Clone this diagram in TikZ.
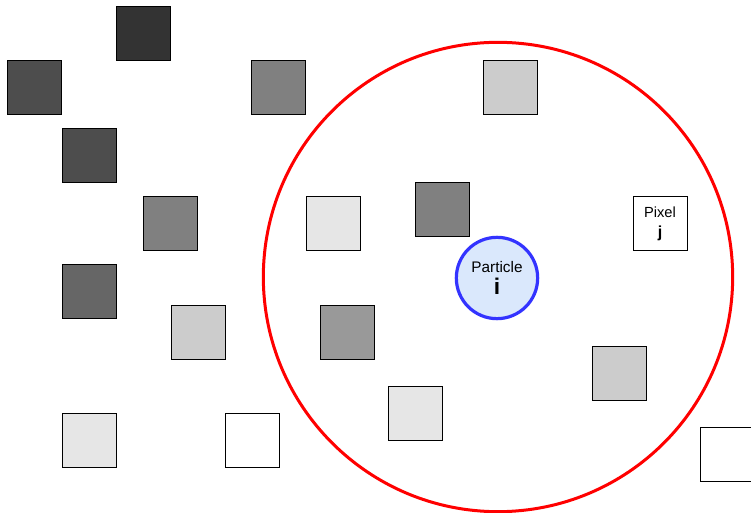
\documentclass[tikz,border=0pt]{standalone}
\usepackage{fontspec}
\setmainfont{Liberation Sans}
\definecolor{g33}{HTML}{333333}
\definecolor{g4d}{HTML}{4D4D4D}
\definecolor{g66}{HTML}{666666}
\definecolor{g80}{HTML}{808080}
\definecolor{g99}{HTML}{999999}
\definecolor{gcc}{HTML}{CCCCCC}
\definecolor{ge6}{HTML}{E6E6E6}
\definecolor{ringred}{HTML}{FF0000}
\definecolor{partblue}{HTML}{3333FF}
\definecolor{partfill}{HTML}{DAE8FC}
\begin{document}
\begin{tikzpicture}[x=0.75pt,y=-0.75pt,
  sq/.style={draw=black,line width=0.75pt,minimum size=40.5pt,inner sep=0pt},
  ring/.style={draw=ringred,line width=2.25pt,circle,minimum size=352pt},
  part/.style={draw=partblue,fill=partfill,line width=2.4pt,circle,minimum size=61pt,inner sep=0pt,align=center}]
\useasboundingbox (0,0) rectangle (751,513);
\node[ring] (kernel) at (498,277) {};
% grey pixels outside and inside the kernel
\node[sq,fill=g33] (sq1) at (143,34) {};
\node[sq,fill=g4d] (sq2) at (34,88) {};
\node[sq,fill=g80] (sq3) at (278.5,88) {};
\node[sq,fill=gcc] (sq4) at (510,88) {};
\node[sq,fill=g4d] (sq5) at (89,156) {};
\node[sq,fill=g80] (sq6) at (170,224) {};
\node[sq,fill=ge6] (sq7) at (333,224) {};
\node[sq,fill=g80] (sq8) at (442,210) {};
\node[sq,fill=g66] (sq9) at (89,292) {};
\node[sq,fill=gcc] (sq10) at (198,333) {};
\node[sq,fill=g99] (sq11) at (347,333) {};
\node[sq,fill=gcc] (sq12) at (619,374) {};
\node[sq,fill=ge6] (sq13) at (415,414) {};
\node[sq,fill=ge6] (sq14) at (89,441) {};
\node[sq,fill=white] (sq15) at (252,441) {};
\node[sq,fill=white] (sq16) at (727,455) {};
% the pixel j and the particle i
\node[sq,fill=white,align=center,font=\fontsize{11}{12}\selectfont] (pixel) at (660,224) {Pixel\\[3pt]{\bfseries\fontsize{12}{12}\selectfont j}};
\node[part,font=\fontsize{11.5}{13}\selectfont] (particle) at (497,278) {Particle\\[4pt]{\bfseries\fontsize{17}{17}\selectfont i}};
\end{tikzpicture}
\end{document}
